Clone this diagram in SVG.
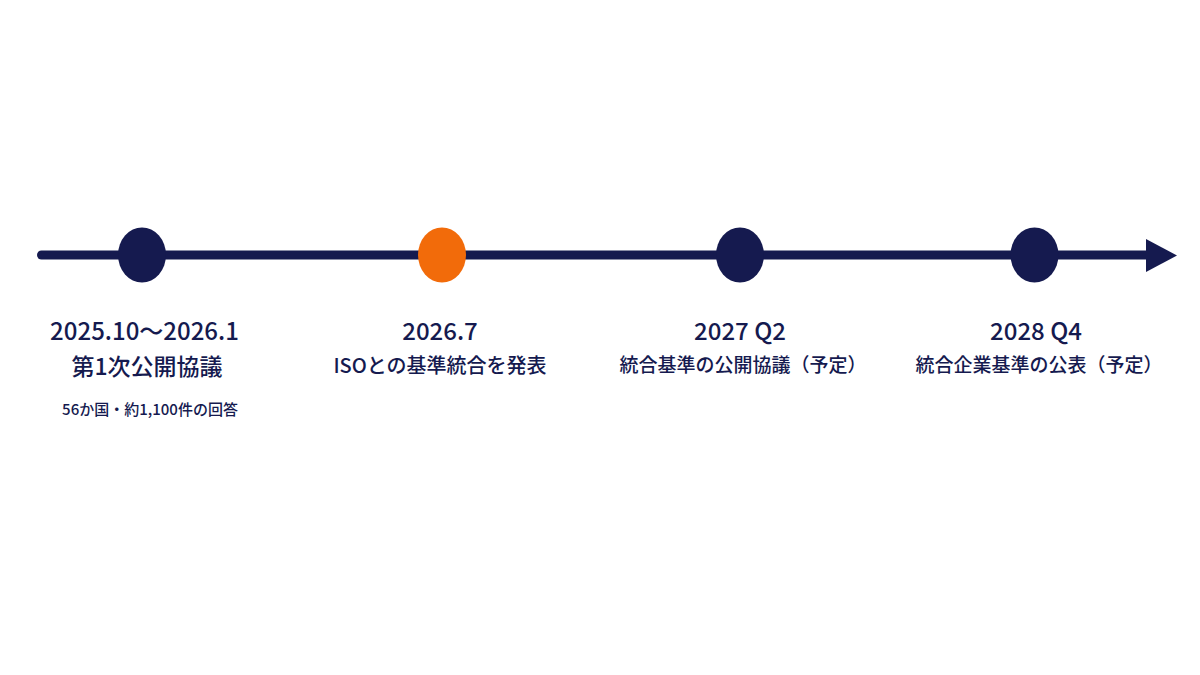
<svg xmlns="http://www.w3.org/2000/svg" width="1200" height="675" viewBox="0 0 1200 675">
<style>
.t{font-family:"Noto Sans CJK JP","Noto Sans",sans-serif;fill:#151a4f;text-anchor:middle}
.d{font-size:24px;font-weight:500}
.s{font-weight:500}
.n{font-size:15px;font-weight:500}
.navy{fill:#151a4f}
</style>
<rect width="1200" height="675" fill="#ffffff"/>
<g id="connectors">
<line x1="41.5" y1="255" x2="1150" y2="255" stroke="#151a4f" stroke-width="9" stroke-linecap="round"/>
<polygon points="1146,239 1177,255.5 1146,272" class="navy"/>
</g>
<g id="node1">
<ellipse cx="142" cy="255" rx="24" ry="27.5" class="navy"/>
<text class="t d" x="144.5" y="340" font-size="23.7">2025.10～2026.1</text>
<text class="t s" x="147" y="375" font-size="23">第1次公開協議</text>
<text class="t n" x="150" y="415">56か国・約1,100件の回答</text>
</g>
<g id="node2">
<ellipse cx="442" cy="255" rx="24" ry="27.5" fill="#f26b0a"/>
<text class="t d" x="440" y="340">2026.7</text>
<text class="t s" x="440" y="373" font-size="20">ISOとの基準統合を発表</text>
</g>
<g id="node3">
<ellipse cx="740" cy="255" rx="24" ry="27.5" class="navy"/>
<text class="t d" x="740" y="340">2027 Q2</text>
<text class="t s" x="743" y="372" font-size="19">統合基準の公開協議（予定）</text>
</g>
<g id="node4">
<ellipse cx="1034.5" cy="255" rx="24" ry="27.5" class="navy"/>
<text class="t d" x="1036" y="340">2028 Q4</text>
<text class="t s" x="1039" y="372" font-size="19">統合企業基準の公表（予定）</text>
</g>
</svg>
